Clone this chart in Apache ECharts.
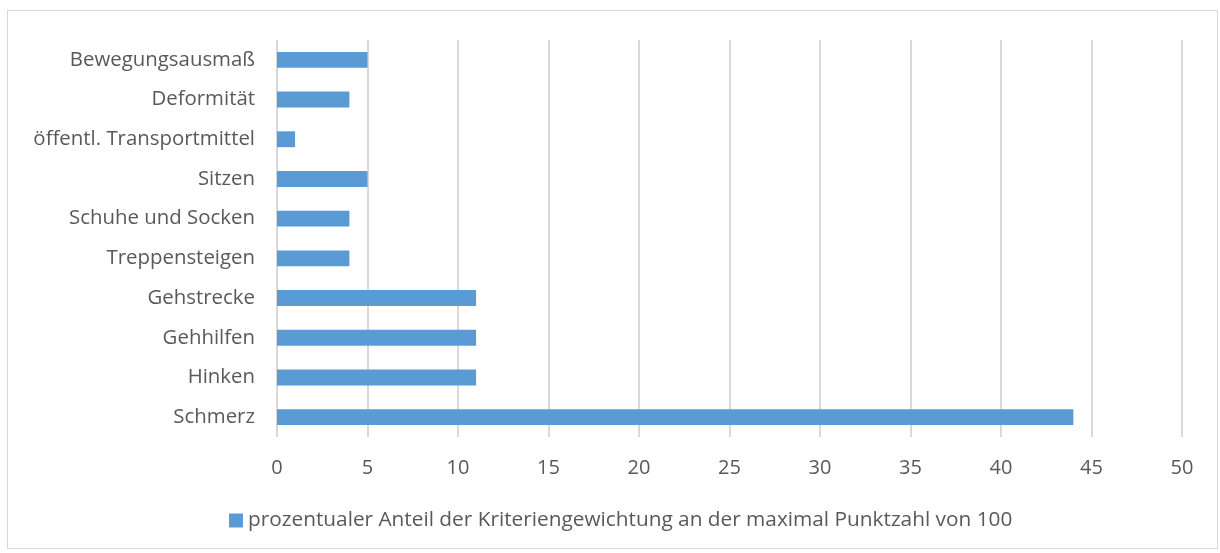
<!DOCTYPE html>
<html><head><meta charset="utf-8">
<script src="https://cdn.jsdelivr.net/npm/echarts@6/dist/echarts.min.js"></script>
<style>html,body{margin:0;padding:0;background:#fff}#c{width:1220px;height:553px}
#frame{position:absolute;left:7px;top:10px;width:1211px;height:539px;border:1px solid #d9d9d9;box-sizing:border-box;pointer-events:none}</style>
</head><body><div id="c"></div><div id="frame"></div>
<script>
const categories = ["Schmerz","Hinken","Gehhilfen","Gehstrecke","Treppensteigen","Schuhe und Socken","Sitzen","öffentl. Transportmittel","Deformität","Bewegungsausmaß"];
const values = [44,11,11,11,4,4,5,1,4,5];
const seriesName = "prozentualer Anteil der Kriteriengewichtung an der maximal Punktzahl von 100";
const font = "'Open Sans', sans-serif";
const chart = echarts.init(document.getElementById('c'));
chart.setOption({
  animation:false,
  grid:{left:277,right:38,top:40,bottom:116,containLabel:false},
  legend:{bottom:17,left:224,icon:'rect',itemWidth:14,itemHeight:14,itemGap:6,
    textStyle:{color:'#595959',fontSize:20.8,fontFamily:font},data:[seriesName]},
  xAxis:{type:'value',min:0,max:50,interval:5,
    axisLine:{show:false},axisTick:{show:false},
    axisLabel:{color:'#595959',fontSize:20,fontFamily:font,margin:21},
    splitLine:{lineStyle:{color:'#d9d9d9',width:2}}},
  yAxis:{type:'category',data:categories,
    axisLine:{show:false},axisTick:{show:false},
    axisLabel:{color:'#595959',fontSize:20.4,fontFamily:font,margin:22}},
  series:[{name:seriesName,type:'bar',data:values,barWidth:'40%',
    itemStyle:{color:'#5b9bd5'}}]
});
</script></body></html>
